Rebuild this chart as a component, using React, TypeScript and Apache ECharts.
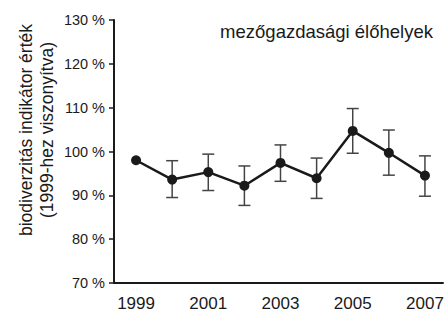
import React, { useEffect, useRef } from "react";
import * as echarts from "echarts";

const years = ["1999", "2000", "2001", "2002", "2003", "2004", "2005", "2006", "2007"];
const values = [98.0, 93.6, 95.3, 92.2, 97.4, 93.9, 104.7, 99.7, 94.5];
const errLow = [98.0, 89.5, 91.1, 87.7, 93.2, 89.3, 99.6, 94.6, 89.8];
const errHigh = [98.0, 97.9, 99.4, 96.7, 101.5, 98.5, 109.8, 104.9, 99.0];
const hasError = [false, true, true, true, true, true, true, true, true];
const titleText = "mezőgazdasági élőhelyek";
const yName = "biodiverzitás indikátor érték\n(1999-hez viszonyítva)";

const FONT = "Liberation Sans, Arial, sans-serif";

export default function App() {
  const ref = useRef<HTMLDivElement>(null);
  useEffect(() => {
    if (!ref.current) return;
    const chart = echarts.init(ref.current, null, { renderer: "svg" });
    const errData = years
      .map((_, i) => [i, errLow[i], errHigh[i]])
      .filter((_, i) => hasError[i]);
    chart.setOption({
      animation: false,
      textStyle: { fontFamily: FONT },
      title: {
        text: titleText,
        right: 9,
        top: 17,
        textStyle: { fontFamily: FONT, fontSize: 18.5, fontWeight: "normal", color: "#1a1a1a" },
      },
      graphic: [
        {
          type: "text",
          x: 36,
          y: 130,
          rotation: Math.PI / 2,
          style: {
            text: yName,
            font: `17.5px ${FONT}`,
            fill: "#1a1a1a",
            align: "center",
            verticalAlign: "middle",
            lineHeight: 21,
          },
        },
        {
          type: "rect",
          shape: { x: 113, y: 282, width: 6, height: 2 },
          style: { fill: "#1a1a1a" },
        },
      ],
      grid: { left: 118, right: 4, top: 20, bottom: 32, containLabel: false },
      xAxis: {
        type: "category",
        data: years,
        boundaryGap: true,
        axisLine: { lineStyle: { color: "#1a1a1a", width: 2 } },
        axisTick: {
          length: 6,
          lineStyle: { color: "#1a1a1a", width: 1.5 },
          interval: (index: number) => index !== 0,
        },
        axisLabel: {
          interval: 1,
          margin: 12,
          fontSize: 17,
          color: "#1a1a1a",
          fontFamily: FONT,
        },
        splitLine: { show: false },
      },
      yAxis: {
        type: "value",
        min: 70,
        max: 130,
        interval: 10,
        offset: 4,
        axisLine: { show: true, lineStyle: { color: "#1a1a1a", width: 2 } },
        axisTick: { show: true, length: 5, lineStyle: { color: "#1a1a1a", width: 1.5 } },
        axisLabel: {
          formatter: "{value} %",
          margin: 9,
          fontSize: 14.5,
          color: "#1a1a1a",
          fontFamily: FONT,
        },
        splitLine: { show: false },
      },
      series: [
        {
          type: "custom",
          data: errData,
          z: 1,
          renderItem: (params: any, api: any) => {
            const x = api.value(0);
            const lo = api.coord([x, api.value(1)]);
            const hi = api.coord([x, api.value(2)]);
            const half = 6;
            const style = { stroke: "#444", lineWidth: 1.5 };
            return {
              type: "group",
              children: [
                { type: "line", shape: { x1: hi[0], y1: hi[1], x2: lo[0], y2: lo[1] }, style },
                { type: "line", shape: { x1: hi[0] - half, y1: hi[1], x2: hi[0] + half, y2: hi[1] }, style },
                { type: "line", shape: { x1: lo[0] - half, y1: lo[1], x2: lo[0] + half, y2: lo[1] }, style },
              ],
            };
          },
        },
        {
          type: "line",
          data: values,
          z: 3,
          symbol: "circle",
          symbolSize: 10,
          itemStyle: { color: "#1a1a1a" },
          lineStyle: { color: "#1a1a1a", width: 2.5 },
        },
      ],
    });
    return () => chart.dispose();
  }, []);
  return <div ref={ref} style={{ width: 447, height: 315, position: "absolute", left: 0, top: 0 }} />;
}
